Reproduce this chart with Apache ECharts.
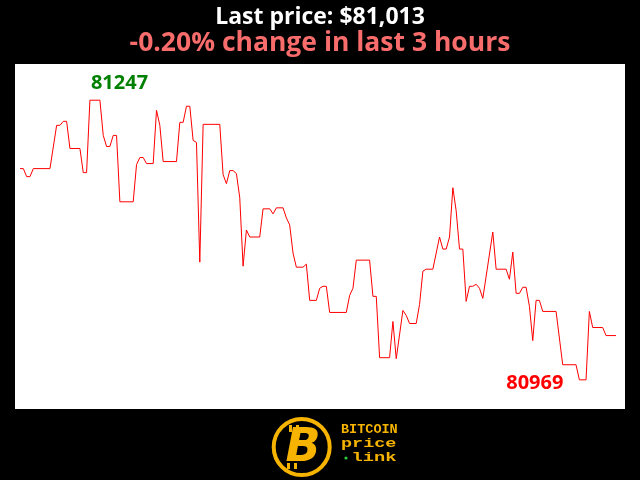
<!DOCTYPE html>
<html>
<head>
<meta charset="utf-8">
<script src="https://cdn.jsdelivr.net/npm/echarts@6/dist/echarts.min.js"></script>
<style>
html,body{margin:0;padding:0;background:#000;}
#c{width:640px;height:480px;}
</style>
</head>
<body>
<div id="c"></div>
<script>
// minute index (0..179 over last 3 hours) of each turning point, and its price
const minutes = [0,1,2,3,4,9,11,12,13,14,15,18,19,20,21,24,25,26,27,28,29,30,34,35,36,37,38,40,41,42,43,47,48,49,50,51,52,53,54,55,60,61,62,63,64,65,66,67,68,69,72,73,75,76,77,79,80,81,82,83,85,86,87,89,90,91,92,93,98,99,100,101,105,106,107,108,111,112,113,115,116,117,119,120,121,122,124,125,126,127,128,129,130,131,132,133,134,135,136,137,138,139,142,143,146,147,148,149,150,151,152,153,154,155,156,157,161,163,167,168,170,171,172,175,176,179];
const prices = [81179,81179,81171,81171,81179,81179,81222,81222,81226,81226,81199,81199,81175,81175,81247,81247,81212,81201,81201,81212,81212,81146,81146,81183,81190,81190,81184,81184,81237,81222,81186,81186,81225,81225,81241,81241,81207,81205,81086,81223,81223,81173,81164,81177,81177,81174,81150,81082,81118,81111,81111,81139,81139,81134,81140,81140,81130,81123,81095,81081,81081,81084,81048,81048,81060,81062,81062,81036,81036,81053,81060,81088,81088,81052,81052,80991,80991,81027,80990,81038,81033,81025,81025,81044,81077,81079,81079,81095,81111,81099,81099,81111,81160,81137,81099,81099,81047,81062,81062,81064,81060,81050,81116,81079,81079,81069,81096,81055,81055,81061,81061,81042,81008,81048,81048,81037,81037,80984,80984,80969,80969,81037,81021,81021,81013,81013];
const titleText = "Last price: $81,013";
const subtitleText = "-0.20% change in last 3 hours";

const seriesData = minutes.map((m, i) => [m, prices[i]]);
const maxV = Math.max(...prices), minV = Math.min(...prices);
const maxI = minutes[prices.indexOf(maxV)];
const minI = minutes[prices.indexOf(minV)];
const gold = '#f6b300';

const chart = echarts.init(document.getElementById('c'), null, {renderer:'canvas'});
chart.setOption({
  backgroundColor: '#000',
  animation: false,
  title: [
    {text: titleText, left: 'center', top: 1,
     textStyle: {color: '#fff', fontSize: 23, fontWeight: 'bold', fontFamily: 'Open Sans'}},
    {text: subtitleText, left: 'center', top: 25,
     textStyle: {color: '#f86c6c', fontSize: 26.5, fontWeight: 'bold', fontFamily: 'Open Sans'}}
  ],
  grid: {left: 20, right: 24, top: 64, bottom: 71},
  xAxis: {type: 'value', min: 0, max: 179, show: false},
  yAxis: {type: 'value', min: 80940, max: 81283, show: false},
  graphic: [
    {type: 'rect', z: -10, shape: {x: 15, y: 64, width: 610, height: 345}, style: {fill: '#fff'}},
    {type: 'circle', shape: {cx: 301.7, cy: 447, r: 28}, style: {fill: 'none', stroke: gold, lineWidth: 4}},
    {type: 'rect', shape: {x: 289, y: 425, width: 3, height: 7}, style: {fill: gold}},
    {type: 'rect', shape: {x: 296, y: 425, width: 3, height: 7}, style: {fill: gold}},
    {type: 'rect', shape: {x: 287, y: 463, width: 3, height: 6}, style: {fill: gold}},
    {type: 'rect', shape: {x: 294, y: 463, width: 3, height: 6}, style: {fill: gold}},
    {type: 'text', x: 303, y: 449, style: {text: 'B', fill: gold, font: 'italic bold 46px "DejaVu Sans"', textAlign: 'center', textVerticalAlign: 'middle'}},
    {type: 'text', x: 341, y: 423, style: {text: 'BITCOIN', fill: gold, font: 'bold 13.5px "Liberation Mono"'}},
    {type: 'text', x: 341, y: 437, scaleX: 1.42, style: {text: 'price', fill: gold, font: 'bold 13px "Liberation Mono"'}},
    {type: 'text', x: 351.5, y: 451, scaleX: 1.44, style: {text: 'link', fill: gold, font: 'bold 13px "Liberation Mono"'}},
    {type: 'circle', shape: {cx: 346, cy: 458, r: 1.6}, style: {fill: '#2ecc40'}}
  ],
  series: [{
    type: 'line',
    data: seriesData,
    showSymbol: false,
    lineStyle: {color: '#ff0000', width: 1},
    itemStyle: {color: '#ff0000'},
    markPoint: {
      symbol: 'circle', symbolSize: 0,
      data: [
        {coord: [maxI, maxV], value: maxV,
         label: {show: true, position: 'inside', formatter: String(maxV), color: '#008000', fontSize: 20, fontWeight: 'bold', fontFamily: 'Open Sans', align: 'left', verticalAlign: 'middle', offset: [1, -17]}},
        {coord: [minI, minV], value: minV,
         label: {show: true, position: 'inside', formatter: String(minV), color: '#ff0000', fontSize: 20, fontWeight: 'bold', fontFamily: 'Open Sans', align: 'right', verticalAlign: 'middle', offset: [-16, 3]}}
      ]
    }
  }]
});
</script>
</body>
</html>
